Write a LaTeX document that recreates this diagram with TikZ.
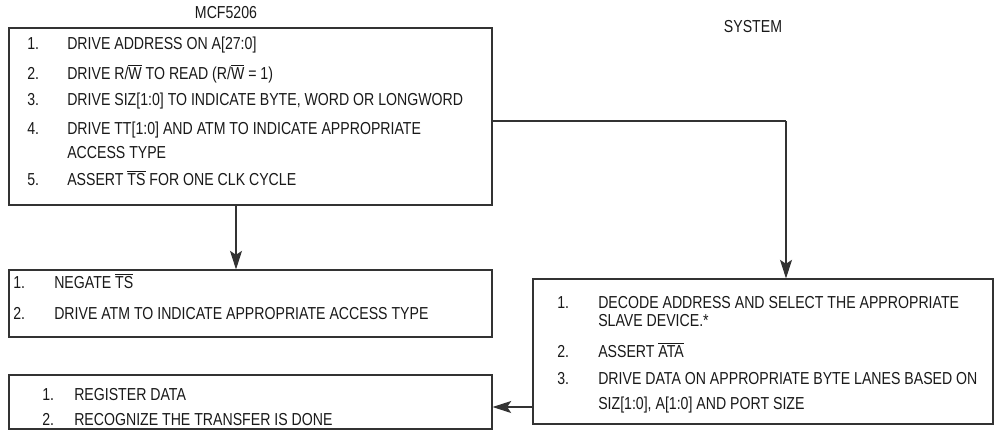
\documentclass[tikz,border=0pt]{standalone}
\usepackage{fontspec}
\setmainfont{Liberation Sans}[FakeStretch=0.815]
\usetikzlibrary{fit,arrows.meta}
\newcommand{\ovl}[1]{$\overline{\hbox{#1}}$}
\tikzset{
  box/.style={draw=black!80, line width=0.8pt, inner sep=0pt},
  txt/.style={anchor=base west, inner sep=0pt, font=\fontsize{13}{15}\selectfont, text=black!90},
  lbl/.style={inner sep=0pt, font=\fontsize{13}{15}\selectfont, text=black!90},
  conn/.style={draw=black!80, line width=0.8pt},
  arr/.style={conn, -{Stealth[length=14pt,width=9pt,inset=3pt]}}
}
\begin{document}
\begin{tikzpicture}[x=0.75pt,y=-0.75pt]
\useasboundingbox (0,0) rectangle (994,440);
% labels
\node[lbl] (mcf) at (226,13) {MCF5206};
\node[lbl] (sys) at (753,27) {SYSTEM};
% box A
\node[box, fit={(9,28) (492,205)}] (A) {};
\node[txt] (a1n) at (27,49) {1.};  \node[txt] (a1) at (67,49) {DRIVE ADDRESS ON A[27:0]};
\node[txt] (a2n) at (27,79) {2.};  \node[txt] (a2) at (67,79) {DRIVE R/\ovl{W} TO READ (R/\ovl{W} = 1)};
\node[txt] (a3n) at (27,105) {3.}; \node[txt] (a3) at (67,105) {DRIVE SIZ[1:0] TO INDICATE BYTE, WORD OR LONGWORD};
\node[txt] (a4n) at (27,134) {4.}; \node[txt] (a4) at (67,134) {DRIVE TT[1:0] AND ATM TO INDICATE APPROPRIATE};
\node[txt] (a4b) at (67,158) {ACCESS TYPE};
\node[txt] (a5n) at (27,185) {5.}; \node[txt] (a5) at (67,185) {ASSERT \ovl{TS} FOR ONE CLK CYCLE};
% box B
\node[box, fit={(9,270) (492,337)}] (B) {};
\node[txt] (b1n) at (13,288) {1.}; \node[txt] (b1) at (54,288) {NEGATE \ovl{TS}};
\node[txt] (b2n) at (13,319) {2.}; \node[txt] (b2) at (54,319) {DRIVE ATM TO INDICATE APPROPRIATE ACCESS TYPE};
% box D
\node[box, fit={(9,375) (492,429)}] (D) {};
\node[txt] (d1n) at (42,400) {1.}; \node[txt] (d1) at (74,400) {REGISTER DATA};
\node[txt] (d2n) at (42,425.5) {2.}; \node[txt] (d2) at (74,425.5) {RECOGNIZE THE TRANSFER IS DONE};
% box C
\node[box, fit={(533,279) (993,424)}] (C) {};
\node[txt] (c1n) at (557,308) {1.}; \node[txt] (c1) at (598,308) {DECODE ADDRESS AND SELECT THE APPROPRIATE};
\node[txt] (c1b) at (598,326) {SLAVE DEVICE.*};
\node[txt] (c2n) at (557,357) {2.}; \node[txt] (c2) at (598,357) {ASSERT \ovl{ATA}};
\node[txt] (c3n) at (557,384) {3.}; \node[txt] (c3) at (598,384) {DRIVE DATA ON APPROPRIATE BYTE LANES BASED ON};
\node[txt] (c3b) at (598,409) {SIZ[1:0], A[1:0] AND PORT SIZE};
% connectors
\coordinate (corner) at (786,121);
\draw[conn] (A.east |- corner) -- (corner);
\draw[arr] (corner) -- (corner |- C.north);
\draw[arr] (236,205) coordinate (abot) -- (abot |- B.north);
\coordinate (cl) at (533,407);
\draw[arr] (cl) -- (cl -| D.east);
\end{tikzpicture}
\end{document}
